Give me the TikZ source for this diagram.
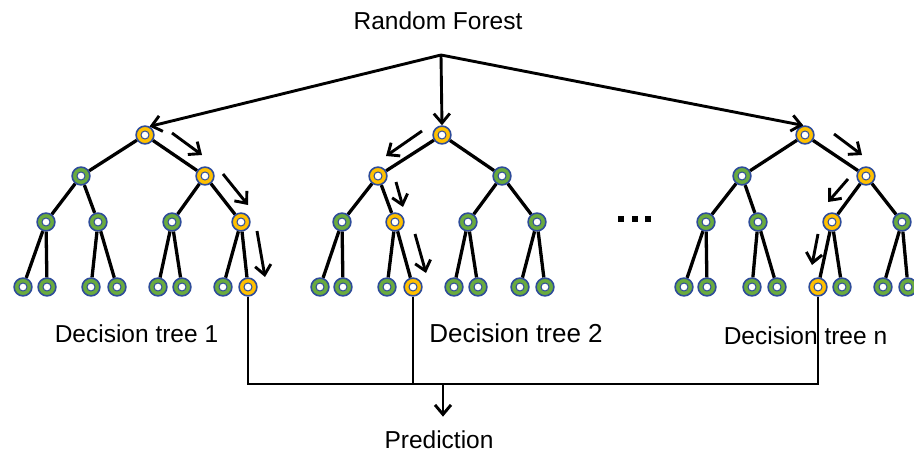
\documentclass[tikz,border=0pt]{standalone}
\usepackage{fontspec}
\setmainfont{Liberation Sans}
\usetikzlibrary{arrows.meta}
\definecolor{ngreen}{HTML}{6AAB3E}
\definecolor{nyellow}{HTML}{FFC000}
\definecolor{nblue}{HTML}{2E4C9A}
\tikzset{
  tn/.style={circle, inner sep=0pt, minimum size=17.8pt, draw=nblue, line width=1.6pt, fill=#1,
    path picture={\fill[white, draw=nblue, line width=1pt] (path picture bounding box.center) circle (4pt);}},
  edge/.style={line width=3.3pt, black},
  arr/.style={line width=2.9pt, black, -{Straight Barb[length=9.5pt,width=16pt,line width=2.9pt]}},
  conn/.style={line width=2.5pt, black},
  lbl/.style={font=\fontsize{24.5}{28}\selectfont, inner sep=0pt, anchor=base},
  dotsq/.style={fill=black, minimum size=6pt, inner sep=0pt, rectangle}
}
\begin{document}
\begin{tikzpicture}[x=1pt,y=-1pt]
\useasboundingbox (0,0) rectangle (914,452);
% nodes
\foreach \p/\x/\y/\c in {
 t1r/145/135/nyellow, t1a/81/176/ngreen, t1b/205/176/nyellow,
 t1c/46/222/ngreen, t1d/98/222/ngreen, t1e/172/222/ngreen, t1f/241/222/nyellow,
 t1g/23/287/ngreen, t1h/47/287/ngreen, t1i/91/287/ngreen, t1j/117/287/ngreen,
 t1k/158/287/ngreen, t1l/182/287/ngreen, t1m/223/287/ngreen, t1n/248/287/nyellow,
 t2r/442/135/nyellow, t2a/378/176/nyellow, t2b/502/176/ngreen,
 t2c/342/222/ngreen, t2d/395/222/nyellow, t2e/468/222/ngreen, t2f/537/222/ngreen,
 t2g/320/287/ngreen, t2h/343/287/ngreen, t2i/387/287/ngreen, t2j/413/287/nyellow,
 t2k/454/287/ngreen, t2l/478/287/ngreen, t2m/520/287/ngreen, t2n/545/287/ngreen,
 tnr/805/135/nyellow, tna/742/176/ngreen, tnb/866/176/nyellow,
 tnc/706/222/ngreen, tnd/758/222/ngreen, tne/832/222/nyellow, tnf/902/222/ngreen,
 tng/684/287/ngreen, tnh/707/287/ngreen, tni/752/287/ngreen, tnj/777/287/ngreen,
 tnk/818/287/nyellow, tnl/842/287/ngreen, tnm/883/287/ngreen, tnn/908/287/ngreen}
 \node[tn=\c] (\p) at (\x,\y) {};
% tree edges
\foreach \t in {t1,t2,tn}
 \foreach \u/\v in {r/a,r/b,a/c,a/d,b/e,b/f,c/g,c/h,d/i,d/j,e/k,e/l,f/m,f/n}
  \draw[edge] (\t\u) -- (\t\v);
% texts
\node[lbl] (rf) at (438,30) {Random Forest};
\node[lbl] (d1) at (136.5,342) {Decision tree 1};
\node[lbl, font=\fontsize{26}{30}\selectfont] (d2) at (516,342) {Decision tree 2};
\node[lbl] (dn) at (805.5,344) {Decision tree n};
\node[lbl] (pred) at (439,448.6) {Prediction};
% ellipsis
\node[dotsq] (e1) at (621,219) {};
\node[dotsq] (e2) at (634.5,219) {};
\node[dotsq] (e3) at (648,219) {};
% top arrows
\coordinate (top) at (441,55);
\draw[arr] (top) -- (t1r.62);
\draw[arr] (top) -- (t2r.north);
\draw[arr] (top) -- (tnr.100);
% path arrows
\foreach \n/\ax/\ay/\bx/\by in {
 p1/172/133/202/155, p2/223/174/248/205, p3/257/231/265/277,
 p4/422/131/386/156, p5/396/182/403/207, p6/415/234/426/273,
 p7/834/134/862/155, p8/848/179/828/202, p9/818/234/812/265}{
 \coordinate (\n s) at (\ax,\ay);
 \coordinate (\n e) at (\bx,\by);
 \draw[arr] (\n s) -- (\n e);
}
% bottom connectors
\coordinate (b1) at (248,384);
\coordinate (bn) at (818,384);
\coordinate (j) at (443,384);
\draw[conn] (t1n) -- (b1) -- (bn) -- (tnk);
\draw[conn] (t2j) -- (t2j |- b1);
\draw[arr, line width=2.5pt] (j) -- ([yshift=14pt]pred.north -| j);
\end{tikzpicture}
\end{document}
